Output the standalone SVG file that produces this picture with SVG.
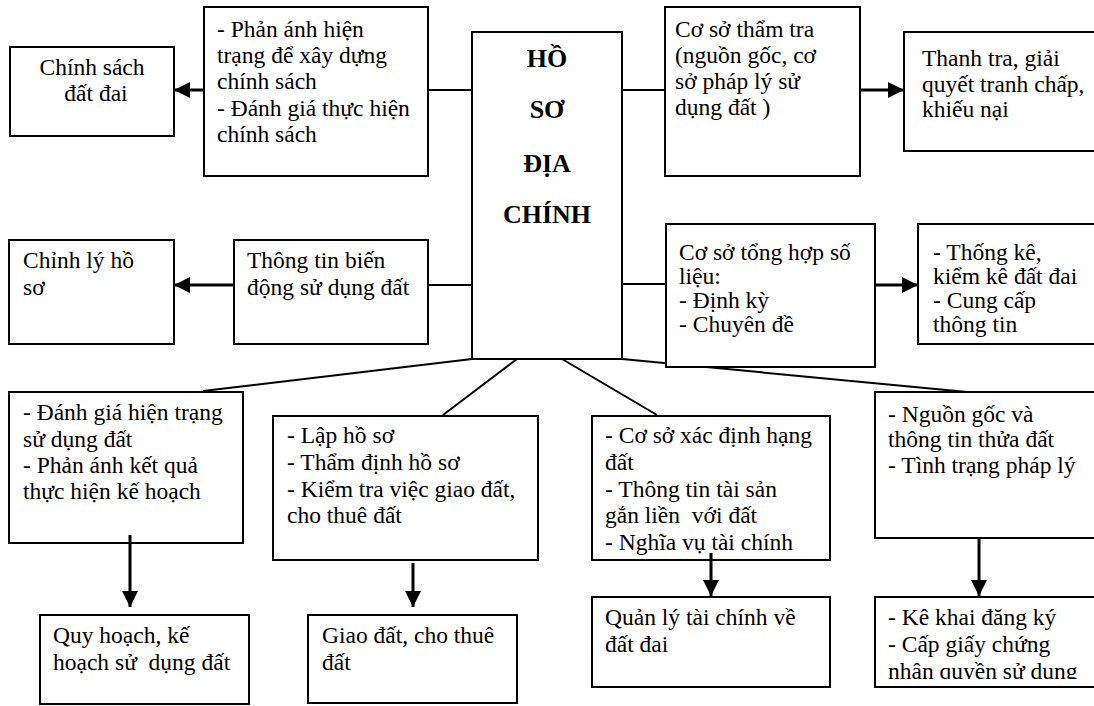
<svg xmlns="http://www.w3.org/2000/svg" width="1094" height="706" viewBox="0 0 1094 706">
<style>
.b{fill:#fff;stroke:#000;stroke-width:2}
.t{font-size:23.5px;fill:#000}
.h{font-size:26px;font-weight:bold;fill:#000;text-anchor:middle}
.c{text-anchor:middle}
.ln{stroke:#000;stroke-width:2;fill:none}
.ar{stroke:#000;stroke-width:3;fill:none;marker-end:url(#ah)}
</style>
<defs>
<marker id="ah" markerUnits="userSpaceOnUse" markerWidth="16" markerHeight="16" refX="16" refY="8" orient="auto">
<path d="M0,0 L16,8 L0,16 Z" fill="#000"/>
</marker>
<clipPath id="clipKK"><rect x="870" y="590" width="230" height="89"/></clipPath>
</defs>
<rect width="1094" height="706" fill="#fff"/>

<g id="connectors">
<line class="ln" x1="428" y1="90" x2="472" y2="90"/>
<line class="ln" x1="622" y1="90" x2="665" y2="90"/>
<line class="ln" x1="428" y1="285" x2="472" y2="285"/>
<line class="ln" x1="622" y1="284" x2="666" y2="284"/>
<line class="ln" x1="472" y1="359" x2="203" y2="391"/>
<line class="ln" x1="517" y1="359" x2="443" y2="415"/>
<line class="ln" x1="562" y1="359" x2="657" y2="415"/>
<line class="ln" x1="622" y1="359" x2="967" y2="392"/>
</g>

<g id="nodes" font-family="Liberation Serif, Times New Roman, serif">
<g id="n-center"><rect class="b" x="472" y="32" width="150" height="327"/>
<text class="h" x="547" y="67">HỒ</text><text class="h" x="547" y="118">SƠ</text><text class="h" x="547" y="172">ĐỊA</text><text class="h" x="547" y="223">CHÍNH</text></g>

<g id="n-chinhsach"><rect class="b" x="10" y="47" width="164" height="89"/>
<text class="t c" x="92" y="75">Chính sách</text><text class="t c" x="96" y="101">đất đai</text></g>

<g id="n-phananh"><rect class="b" x="204" y="7" width="224" height="169"/>
<text class="t" x="217" y="37">- Phản ánh hiện</text><text class="t" x="217" y="63">trạng để xây dựng</text><text class="t" x="217" y="89">chính sách</text><text class="t" x="217" y="116">- Đánh giá thực hiện</text><text class="t" x="217" y="142">chính sách</text></g>

<g id="n-thamtra"><rect class="b" x="665" y="7" width="195" height="169"/>
<text class="t" x="675" y="37">Cơ sở thẩm tra</text><text class="t" x="675" y="63">(nguồn gốc, cơ</text><text class="t" x="675" y="89">sở pháp lý sử</text><text class="t" x="675" y="115">dụng đất )</text></g>

<g id="n-thanhtra"><rect class="b" x="904" y="32" width="200" height="119"/>
<text class="t" x="922" y="66">Thanh tra, giải</text><text class="t" x="922" y="92">quyết tranh chấp,</text><text class="t" x="922" y="117">khiếu nại</text></g>

<g id="n-chinhly"><rect class="b" x="9" y="240" width="165" height="104"/>
<text class="t" x="23" y="268">Chỉnh lý hồ</text><text class="t" x="23" y="295">sơ</text></g>

<g id="n-biendong"><rect class="b" x="234" y="240" width="194" height="104"/>
<text class="t" x="247" y="268">Thông tin biến</text><text class="t" x="247" y="295">động sử dụng đất</text></g>

<g id="n-tonghop"><rect class="b" x="666" y="224" width="209" height="143"/>
<text class="t" x="679" y="260">Cơ sở tổng hợp số</text><text class="t" x="679" y="284">liệu:</text><text class="t" x="679" y="308">- Định kỳ</text><text class="t" x="679" y="332">- Chuyên đề</text></g>

<g id="n-thongke"><rect class="b" x="918" y="224" width="190" height="120"/>
<text class="t" x="933" y="260">- Thống kê,</text><text class="t" x="933" y="284">kiểm kê đất đai</text><text class="t" x="933" y="308">- Cung cấp</text><text class="t" x="933" y="332">thông tin</text></g>

<g id="n-danhgia"><rect class="b" x="9" y="392" width="234" height="151"/>
<text class="t" x="23" y="420">- Đánh giá hiện trạng</text><text class="t" x="23" y="447">sử dụng đất</text><text class="t" x="23" y="473">- Phản ánh kết quả</text><text class="t" x="23" y="499">thực hiện kế hoạch</text></g>

<g id="n-laphoso"><rect class="b" x="273" y="416" width="265" height="144"/>
<text class="t" x="287" y="443">- Lập hồ sơ</text><text class="t" x="287" y="470">- Thẩm định hồ sơ</text><text class="t" x="287" y="497">- Kiểm tra việc giao đất,</text><text class="t" x="287" y="523">cho thuê đất</text></g>

<g id="n-hangdat"><rect class="b" x="592" y="416" width="238" height="144"/>
<text class="t" x="605" y="443">- Cơ sở xác định hạng</text><text class="t" x="605" y="470">đất</text><text class="t" x="605" y="497">- Thông tin tài sản</text><text class="t" x="605" y="523" xml:space="preserve">gắn liền  với đất</text><text class="t" x="605" y="550">- Nghĩa vụ tài chính</text></g>

<g id="n-nguongoc"><rect class="b" x="875" y="392" width="230" height="146"/>
<text class="t" x="888" y="422">- Nguồn gốc và</text><text class="t" x="888" y="447">thông tin thửa đất</text><text class="t" x="888" y="473">- Tình trạng pháp lý</text></g>

<g id="n-quyhoach"><rect class="b" x="40" y="615" width="209" height="89"/>
<text class="t" x="53" y="643">Quy hoạch, kế</text><text class="t" x="53" y="670" xml:space="preserve">hoạch sử  dụng đất</text></g>

<g id="n-giaodat"><rect class="b" x="308" y="615" width="209" height="88"/>
<text class="t" x="322" y="643">Giao đất, cho thuê</text><text class="t" x="322" y="670">đất</text></g>

<g id="n-taichinh"><rect class="b" x="592" y="597" width="238" height="90"/>
<text class="t" x="605" y="625">Quản lý tài chính về</text><text class="t" x="605" y="652">đất đai</text></g>

<g id="n-kekhai"><rect class="b" x="875" y="597" width="230" height="90"/>
<text class="t" x="888" y="625">- Kê khai đăng ký</text><text class="t" x="888" y="652">- Cấp giấy chứng</text><text class="t" x="888" y="679" clip-path="url(#clipKK)">nhân quyền sử dụng</text></g>
</g>

<g id="arrows">
<line class="ar" x1="204" y1="90" x2="174" y2="90"/>
<line class="ar" x1="234" y1="285" x2="174" y2="285"/>
<line class="ar" x1="860" y1="90" x2="904" y2="90"/>
<line class="ar" x1="875" y1="285" x2="918" y2="285"/>
<line class="ar" x1="130" y1="535" x2="130" y2="607"/>
<line class="ar" x1="413" y1="563" x2="413" y2="607"/>
<line class="ar" x1="711" y1="553" x2="711" y2="596"/>
<line class="ar" x1="979" y1="538" x2="979" y2="596"/>
</g>
</svg>
